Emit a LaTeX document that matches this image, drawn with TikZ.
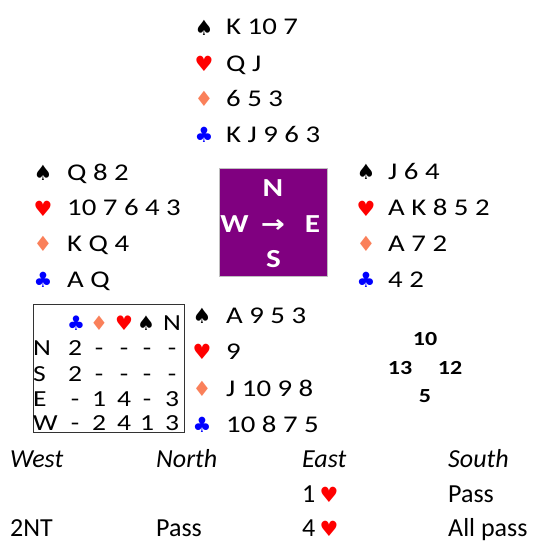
\documentclass[tikz,border=0pt]{standalone}
\usepackage{graphicx}
\usepackage{fontspec}
\setmainfont{Carlito}
\newfontfamily\suitfont{DejaVu Sans}
\definecolor{spadec}{RGB}{0,0,0}
\definecolor{heartc}{RGB}{255,0,0}
\definecolor{diamc}{RGB}{250,128,90}
\definecolor{clubc}{RGB}{0,0,255}
\definecolor{compass}{RGB}{128,0,128}
\newcommand{\wide}[1]{\scalebox{1.2}[1]{#1}}
\newcommand{\Sp}{{\suitfont\color{spadec}♠}}
\newcommand{\He}{{\suitfont\color{heartc}♥}}
\newcommand{\Di}{{\suitfont\color{diamc}♦}}
\newcommand{\Cl}{{\suitfont\color{clubc}♣}}
\tikzset{
  suit/.style={inner sep=0pt, font=\fontsize{21}{21}\selectfont},
  cards/.style={anchor=base west, inner sep=0pt, font=\fontsize{24}{24}\selectfont},
  tcell/.style={anchor=base, inner sep=0pt, font=\fontsize{23}{23}\selectfont},
  tlabel/.style={anchor=base west, inner sep=0pt, font=\fontsize{23}{23}\selectfont},
  tsuit/.style={inner sep=0pt, font=\fontsize{20}{20}\selectfont},
  hcp/.style={anchor=base, inner sep=0pt, font=\fontsize{20}{20}\selectfont\bfseries},
  dir/.style={anchor=base, inner sep=0pt, text=white, font=\fontsize{26}{26}\selectfont\bfseries},
  bid/.style={anchor=base west, inner sep=0pt, font=\fontsize{26}{26}\selectfont},
}
\begin{document}
\begin{tikzpicture}[x=1pt,y=-1pt]
\useasboundingbox (0,0) rectangle (538,543);

% North hand
\node[suit] (ns) at (204,28) {\Sp};
\node[cards] (nsc) at (226,35) {\wide{K 10 7}};
\node[suit] (nh) at (204,64) {\He};
\node[cards] (nhc) at (226,71) {\wide{Q J}};
\node[suit] (nd) at (204,99) {\Di};
\node[cards] (ndc) at (226,106) {\wide{6 5 3}};
\node[suit] (nc) at (204,135) {\Cl};
\node[cards] (ncc) at (226,142) {\wide{K J 9 6 3}};

% West hand
\node[suit] (ws) at (43,173) {\Sp};
\node[cards] (wsc) at (67,180) {\wide{Q 8 2}};
\node[suit] (wh) at (43,209) {\He};
\node[cards] (whc) at (67,215.5) {\wide{10 7 6 4 3}};
\node[suit] (wd) at (43,244) {\Di};
\node[cards] (wdc) at (67,251) {\wide{K Q 4}};
\node[suit] (wc) at (43,280) {\Cl};
\node[cards] (wcc) at (67,287) {\wide{A Q}};

% East hand
\node[suit] (es) at (366,172) {\Sp};
\node[cards] (esc) at (388,179) {\wide{J 6 4}};
\node[suit] (eh) at (366,209) {\He};
\node[cards] (ehc) at (388,215.5) {\wide{A K 8 5 2}};
\node[suit] (ed) at (366,244) {\Di};
\node[cards] (edc) at (388,251) {\wide{A 7 2}};
\node[suit] (ec) at (366,280) {\Cl};
\node[cards] (ecc) at (388,287) {\wide{4 2}};

% South hand
\node[suit] (ss) at (202,316) {\Sp};
\node[cards] (ssc) at (226,323) {\wide{A 9 5 3}};
\node[suit] (sh) at (202,352) {\He};
\node[cards] (shc) at (226,359.5) {\wide{9}};
\node[suit] (sd) at (202,389) {\Di};
\node[cards] (sdc) at (226,396) {\wide{J 10 9 8}};
\node[suit] (sc) at (202,425) {\Cl};
\node[cards] (scc) at (226,432.5) {\wide{10 8 7 5}};

% Compass square
\node[draw=black!25, line width=0.8pt, fill=compass, minimum width=108pt, minimum height=108pt, inner sep=0pt] (box) at (273,222) {};
\node[dir] (cn) at (273,196.5) {\wide{N}};
\node[dir] (cw) at (234.5,232.5) {\wide{W}};
\node[dir] (ce) at (312.5,232.5) {\wide{E}};
\node[dir] (cs) at (273.5,267.5) {\wide{S}};
\node[inner sep=0pt, text=white, font=\suitfont\bfseries\fontsize{24}{24}\selectfont] (arr) at (273,226) {\wide{→}};

% Makeable tricks table
\node[draw=black!80, line width=0.9pt, minimum width=151pt, minimum height=128pt, inner sep=0pt] (tbl) at (108.5,368) {};
\node[tsuit] (tc) at (76,323) {\Cl};
\node[tsuit] (td) at (99,323) {\Di};
\node[tsuit] (th) at (124,323) {\He};
\node[tsuit] (tspd) at (146,323) {\Sp};
\node[tcell] (tnt) at (172,330) {\wide{N}};
\node[tlabel] (rn) at (33,355) {\wide{N}};
\node[tcell] (rn1) at (75,355) {\wide{2}};
\node[tcell] (rn2) at (99,355) {\wide{-}};
\node[tcell] (rn3) at (124,355) {\wide{-}};
\node[tcell] (rn4) at (147,355) {\wide{-}};
\node[tcell] (rn5) at (172,355) {\wide{-}};
\node[tlabel] (rs) at (33,381) {\wide{S}};
\node[tcell] (rs1) at (75,381) {\wide{2}};
\node[tcell] (rs2) at (99,381) {\wide{-}};
\node[tcell] (rs3) at (124,381) {\wide{-}};
\node[tcell] (rs4) at (147,381) {\wide{-}};
\node[tcell] (rs5) at (172,381) {\wide{-}};
\node[tlabel] (re) at (33,406.5) {\wide{E}};
\node[tcell] (re1) at (75,406.5) {\wide{-}};
\node[tcell] (re2) at (99,406.5) {\wide{1}};
\node[tcell] (re3) at (124,406.5) {\wide{4}};
\node[tcell] (re4) at (147,406.5) {\wide{-}};
\node[tcell] (re5) at (172,406.5) {\wide{3}};
\node[tlabel] (rw) at (33,430.5) {\wide{W}};
\node[tcell] (rw1) at (75,430.5) {\wide{-}};
\node[tcell] (rw2) at (99,430.5) {\wide{2}};
\node[tcell] (rw3) at (124,430.5) {\wide{4}};
\node[tcell] (rw4) at (147,430.5) {\wide{1}};
\node[tcell] (rw5) at (172,430.5) {\wide{3}};

% High card points
\node[hcp] (pn) at (425,345) {\wide{10}};
\node[hcp] (pw) at (400,374) {\wide{13}};
\node[hcp] (pe) at (450,374) {\wide{12}};
\node[hcp] (ps) at (425,402) {\wide{5}};

% Auction
\node[bid] (bw) at (10,467) {\itshape West};
\node[bid] (bn) at (156,467) {\itshape North};
\node[bid] (be) at (302,467) {\itshape East};
\node[bid] (bs) at (448,467) {\itshape South};
\node[bid] (b1) at (302,502.5) {1\,{\suitfont\color{heartc}\fontsize{21}{21}\selectfont ♥}};
\node[bid] (b2) at (448,502.5) {Pass};
\node[bid] (b3) at (10,536.5) {2NT};
\node[bid] (b4) at (156,536.5) {Pass};
\node[bid] (b5) at (302,536.5) {4\,{\suitfont\color{heartc}\fontsize{21}{21}\selectfont ♥}};
\node[bid] (b6) at (448,536.5) {All pass};
\end{tikzpicture}
\end{document}
